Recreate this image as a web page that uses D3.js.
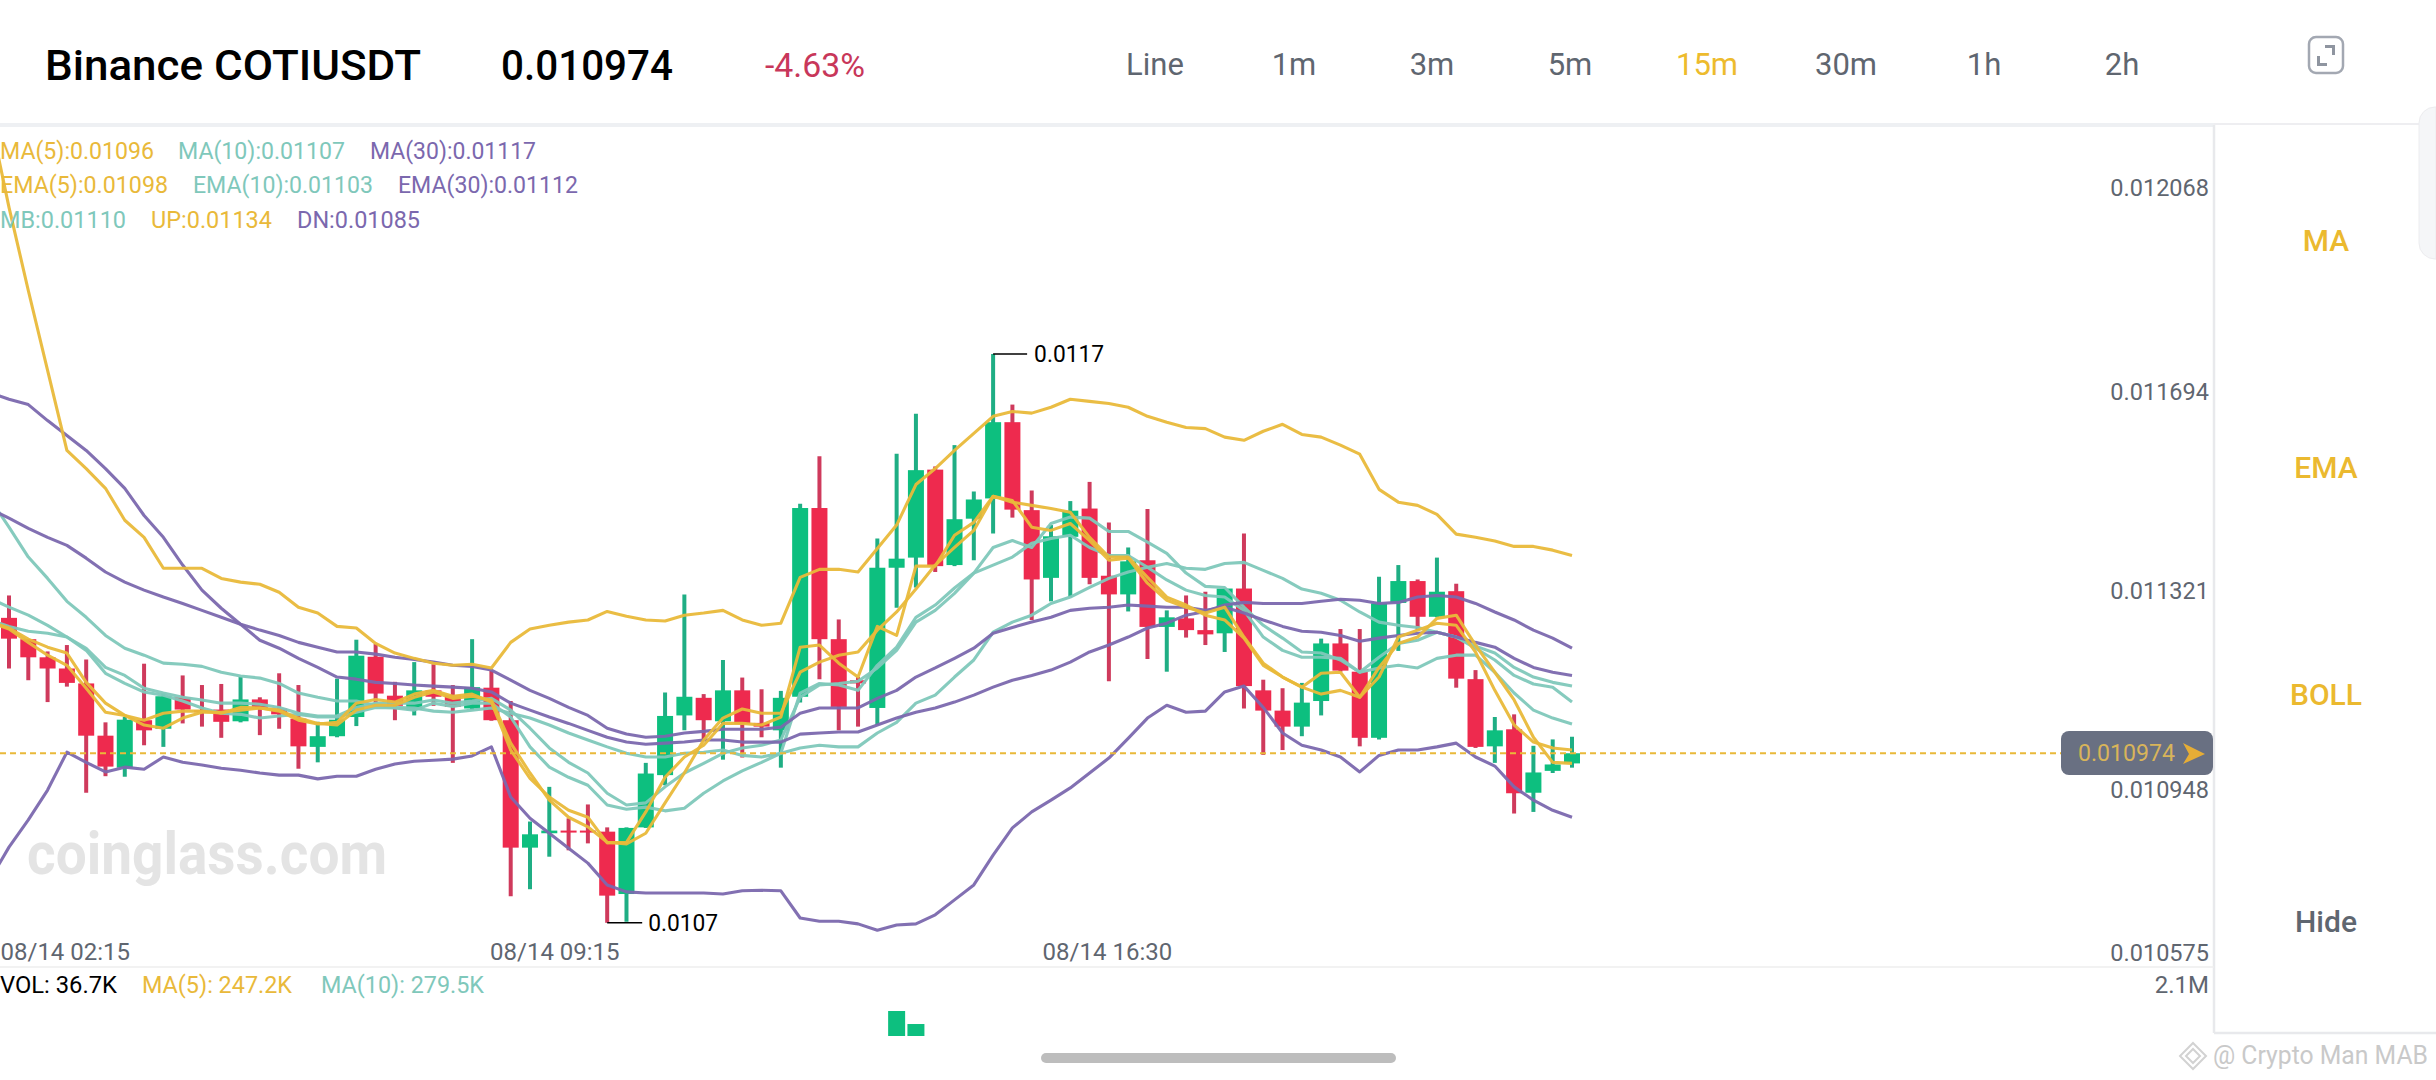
<!DOCTYPE html>
<html><head><meta charset="utf-8">
<script src="https://cdn.jsdelivr.net/npm/d3@7/dist/d3.min.js"></script>
<style>html,body{margin:0;background:#fff;overflow:hidden}svg{display:block}text{font-family:Roboto,sans-serif}</style>
</head><body>
<script>
// prices are in millionths of USDT
const opens=[11228,11188,11154,11133,11105,11007,10947,11036,11020,11079,11055,11056,11034,11075,11058,11039,10986,11006,11042,11155,11082,11055,11092,11083,11058,11097,11036,10797,10824,10829,10829,10827,10710,10835,10933,11045,11078,11034,11092,11031,11017,11080,11434,11188,11111,11059,11322,11341,11506,11327,11414,11452,11595,11430,11303,11380,11433,11307,11272,11336,11211,11227,11205,11199,11283,11092,11054,11024,11072,11180,11127,11003,11256,11297,11230,11278,11113,10987,11019,10900,10941,10955];
const closes=[11189,11154,11133,11106,11007,10949,11037,11017,11081,11056,11051,11033,11075,11059,11047,10987,11006,11037,11157,11086,11063,11092,11080,11061,11098,11036,10797,10822,10829,10826,10826,10707,10834,10936,11044,11080,11036,11092,11029,11024,11078,11434,11188,11061,11105,11322,11339,11505,11325,11413,11450,11595,11431,11300,11381,11429,11303,11272,11334,11211,11229,11205,11197,11283,11100,11054,11024,11069,11180,11129,11003,11255,11297,11230,11277,11114,10986,11017,10899,10938,10953,10974];
const highs=[11270,11188,11165,11177,11150,11032,11042,11142,11086,11120,11102,11104,11117,11079,11124,11102,11033,11114,11187,11179,11108,11145,11141,11102,11188,11129,11072,10846,10911,10852,10878,10835,10835,10956,11088,11272,11085,11149,11116,11094,11091,11442,11531,11225,11117,11377,11536,11611,11512,11552,11465,11723,11628,11467,11402,11447,11483,11407,11360,11432,11242,11270,11277,11283,11386,11112,11096,11106,11189,11207,11207,11305,11327,11300,11341,11292,11130,11042,11047,10988,11000,11005];
const lows=[11133,11111,11070,11099,10900,10931,10930,10989,10986,11030,11024,11003,11032,11008,11020,10945,10957,11004,11025,11069,11036,11045,11063,10956,11055,11035,10706,10719,10780,10792,10805,10656,10658,10834,10914,11017,10999,10962,10966,11004,10947,11069,11113,11017,11024,11027,11247,11285,11314,11325,11336,11386,11416,11224,11259,11267,11291,11109,11240,11151,11127,11191,11177,11164,11058,10971,10980,11006,11045,11127,10987,11000,11166,11205,11229,11097,10984,10956,10861,10864,10937,10947];

// indicator series: first value belongs to the candle just left of the frame
const up=[12170,11998,11842,11692,11542,11508,11471,11411,11379,11321,11321,11321,11302,11295,11291,11276,11248,11237,11212,11209,11180,11162,11152,11143,11139,11141,11134,11182,11207,11214,11220,11224,11240,11231,11224,11222,11233,11237,11242,11224,11214,11218,11304,11319,11319,11314,11358,11402,11478,11508,11542,11574,11606,11615,11612,11623,11638,11634,11630,11623,11606,11595,11585,11583,11567,11561,11578,11591,11572,11567,11552,11535,11469,11445,11439,11422,11385,11379,11372,11362,11362,11355,11345];
const dn=[10736,10798,10849,10905,10976,10957,10939,10948,10944,10967,10957,10952,10946,10942,10937,10933,10933,10926,10931,10931,10944,10954,10959,10961,10963,10969,10986,10892,10852,10824,10796,10768,10727,10714,10712,10712,10712,10712,10710,10716,10717,10716,10665,10659,10659,10654,10642,10652,10654,10671,10699,10727,10783,10834,10864,10886,10909,10937,10965,11002,11040,11064,11051,11053,11089,11100,11060,11012,10989,10980,10967,10939,10970,10980,10980,10986,10993,10967,10950,10911,10886,10867,10854];
const mb=[11452,11398,11342,11302,11259,11229,11195,11171,11158,11143,11141,11137,11126,11119,11115,11105,11087,11079,11072,11072,11064,11060,11059,11053,11051,11055,11059,11049,11040,11027,11012,10999,10986,10974,10967,10967,10974,10976,10980,10970,10967,10974,10984,10989,10986,10986,11012,11032,11068,11083,11117,11149,11201,11220,11233,11255,11267,11285,11302,11314,11323,11330,11321,11319,11330,11332,11317,11302,11282,11274,11261,11239,11220,11214,11210,11201,11192,11175,11162,11135,11117,11107,11100];
const ma30=[11651,11638,11628,11598,11570,11542,11508,11471,11420,11379,11327,11280,11246,11216,11186,11171,11152,11135,11117,11113,11107,11105,11102,11100,11098,11096,11089,11068,11055,11042,11030,11017,11004,10995,10991,10993,10995,10999,10999,10995,10995,10995,11010,11012,11014,11014,11027,11040,11051,11059,11070,11083,11098,11111,11120,11130,11145,11164,11177,11192,11209,11218,11233,11240,11252,11257,11255,11255,11255,11259,11263,11261,11255,11257,11267,11270,11267,11255,11239,11224,11205,11190,11171];
const ema30=[11433,11415,11396,11379,11364,11340,11314,11295,11280,11267,11255,11242,11229,11216,11205,11195,11182,11173,11164,11164,11160,11154,11150,11145,11139,11137,11130,11111,11092,11077,11060,11045,11021,11010,11004,11006,11012,11015,11019,11019,11019,11023,11049,11059,11059,11059,11077,11092,11117,11134,11152,11171,11199,11210,11220,11229,11242,11246,11248,11252,11250,11248,11248,11242,11248,11237,11224,11212,11203,11201,11195,11184,11190,11195,11199,11201,11192,11182,11173,11152,11135,11126,11120];
const ma10=[11224,11212,11203,11199,11192,11167,11124,11105,11089,11083,11072,11059,11049,11047,11040,11044,11047,11042,11042,11051,11060,11059,11055,11068,11062,11068,11068,11042,10986,10948,10929,10914,10877,10869,10873,10866,10871,10899,10922,10941,10957,10974,11087,11105,11102,11092,11139,11173,11229,11252,11284,11312,11360,11373,11360,11405,11417,11415,11390,11390,11370,11349,11312,11287,11285,11248,11214,11190,11164,11162,11149,11126,11154,11180,11186,11201,11192,11171,11149,11120,11104,11098,11070];
const ema10=[11265,11248,11233,11214,11192,11171,11135,11120,11096,11087,11079,11074,11068,11068,11066,11060,11049,11044,11044,11060,11068,11068,11068,11074,11068,11072,11077,11055,11021,10984,10957,10937,10899,10877,10881,10911,10937,10955,10974,10984,10989,10999,11079,11102,11105,11109,11134,11167,11220,11242,11274,11312,11327,11342,11368,11377,11383,11360,11345,11345,11323,11299,11280,11270,11267,11242,11192,11167,11154,11154,11152,11126,11134,11139,11134,11152,11158,11158,11126,11087,11055,11040,11029];
const ma5=[11220,11207,11182,11158,11139,11096,11051,11045,11036,11049,11053,11053,11049,11060,11059,11053,11036,11029,11032,11068,11075,11070,11085,11092,11081,11085,11070,10980,10927,10892,10867,10854,10806,10807,10864,10929,10967,10989,11030,11030,11027,11042,11173,11177,11143,11117,11212,11195,11325,11325,11383,11407,11456,11448,11398,11392,11405,11373,11336,11340,11293,11261,11248,11237,11248,11192,11143,11117,11098,11124,11126,11079,11135,11180,11192,11227,11233,11177,11126,11074,11004,10957,10955];
const ema5=[11220,11209,11188,11173,11162,11107,11068,11045,11027,11021,11040,11051,11051,11055,11059,11055,11040,11030,11027,11055,11064,11064,11079,11089,11077,11081,11074,10993,10937,10886,10854,10836,10807,10804,10824,10881,10937,10999,11040,11057,11049,11049,11126,11145,11158,11164,11205,11239,11282,11327,11360,11392,11456,11445,11439,11433,11426,11379,11342,11342,11304,11267,11252,11233,11224,11190,11139,11117,11098,11085,11092,11079,11117,11192,11205,11218,11214,11164,11092,11027,10995,10984,10980];

const priceTicks=[12068,11694,11321,10948,10575];
const timeIndex=[0,28,57];
const timeLabels=["08/14 02:15","08/14 09:15","08/14 16:30"];
const volIndex=[46,47];
const volValues=[772000,370000];
const volMax=2100000;
const lastPrice=10974;
const tabs=["Line","1m","3m","5m","15m","30m","1h","2h"];
const sideMenu=["MA","EMA","BOLL","Hide"];

const GREEN="#0dbf7f",RED="#ee2a4e",REDW="#cf3a5c",GREENW="#1fae84",YEL="#e9b93a",TEAL="#7fc8bb",PUR="#7b68ae",GREY="#5f6670";
const svg=d3.select("body").append("svg").attr("width",2436).attr("height",1080);
const x=d3.scaleLinear().domain([0,81]).range([9,1572]);
const y=d3.scaleLinear().domain([10575,12068]).range([966,170]);
const v=d3.scaleLinear().domain([0,volMax]).range([1036,968]);

function txt(t,px,py,size,fill,o={}){const n=svg.append("text").attr("x",px).attr("y",py).attr("font-size",size).attr("fill",fill)
 .attr("text-anchor",o.a||"start").attr("dominant-baseline","central").attr("font-weight",o.w||400).text(t);
 if(o.len)n.attr("textLength",o.len).attr("lengthAdjust","spacingAndGlyphs");return n;}

// header
svg.append("rect").attr("x",0).attr("y",123).attr("width",2214).attr("height",4).attr("fill","#eef0f3");
svg.append("line").attr("x1",2214).attr("x2",2436).attr("y1",124).attr("y2",124).attr("stroke","#e8e9ec").attr("stroke-width",1.5);
txt("Binance COTIUSDT",45,65,43,"#000",{w:500,len:376});
txt("0.010974",501,65,43,"#000",{w:500,len:172});
txt("-4.63%",765,65,33,"#c8375a",{len:100});
const tabX=[1155,1294,1432,1570,1707,1846,1984,2122];
tabs.forEach((t,i)=>txt(t,tabX[i],64,31,t==="15m"?"#edbb2d":GREY,{a:"middle"}));
// expand icon
svg.append("rect").attr("x",2309).attr("y",37).attr("width",34).attr("height",36).attr("rx",7).attr("fill","none").attr("stroke","#a3a8b2").attr("stroke-width",2.5);
svg.append("path").attr("d","M2325 45h10v10h-3v-7h-7zM2317 56h3v7h7v3h-10z").attr("fill","#8f95a0");
// side panel
svg.append("line").attr("x1",2214).attr("x2",2214).attr("y1",125).attr("y2",1033).attr("stroke","#e8e9ec").attr("stroke-width",2.5);
svg.append("line").attr("x1",2214).attr("x2",2436).attr("y1",1033).attr("y2",1033).attr("stroke","#e8e9ec").attr("stroke-width",2.5);
svg.append("path").attr("d","M2436 107h-1a16 16 0 0 0-16 16v120a16 16 0 0 0 16 16h1z").attr("fill","#f5f6f8").attr("stroke","#ececef");
const sideY=[240,467,694,921];
sideMenu.forEach((t,i)=>txt(t,2326,sideY[i],30,t==="Hide"?GREY:"#ebb92f",{a:"middle",w:500}));

// grid lines
svg.append("line").attr("x1",0).attr("x2",2214).attr("y1",y(10575)+1).attr("y2",y(10575)+1).attr("stroke","#eeeeee").attr("stroke-width",1.5);

// watermark
txt("coinglass.com",27,853,60,"#e4e4e4",{w:700,len:360});

// candles
const idx=d3.range(opens.length);
const gC=svg.append("g");
gC.selectAll("line").data(idx).join("line")
 .attr("x1",i=>x(i)).attr("x2",i=>x(i)).attr("y1",i=>y(highs[i])).attr("y2",i=>y(lows[i]))
 .attr("stroke",i=>closes[i]>=opens[i]?GREENW:REDW).attr("stroke-width",4);
gC.selectAll("rect").data(idx).join("rect")
 .attr("x",i=>x(i)-8).attr("width",16)
 .attr("y",i=>y(Math.max(opens[i],closes[i])))
 .attr("height",i=>Math.max(2,y(Math.min(opens[i],closes[i]))-y(Math.max(opens[i],closes[i]))))
 .attr("fill",i=>closes[i]>=opens[i]?GREEN:RED);

// indicator lines
const lineGen=d3.line().x((d,k)=>x(k-1)).y(d=>y(d));
[[mb,TEAL],[ma10,TEAL],[ema10,TEAL],[ma30,PUR],[ema30,PUR],[dn,PUR],[up,YEL],[ema5,YEL],[ma5,YEL]].forEach(([s,c])=>{
 svg.append("path").datum(s).attr("d",lineGen).attr("fill","none").attr("stroke",c).attr("stroke-width",3.1).attr("stroke-linejoin","round").attr("stroke-opacity",.95);
});

// high / low markers
const hiI=highs.indexOf(d3.max(highs)),loI=lows.indexOf(d3.min(lows));
svg.append("line").attr("x1",x(hiI)).attr("x2",x(hiI)+34).attr("y1",y(highs[hiI])).attr("y2",y(highs[hiI])).attr("stroke","#000").attr("stroke-width",1.6);
txt("0.0117",x(hiI)+41,y(highs[hiI]),24,"#000",{len:70});
svg.append("line").attr("x1",x(loI)).attr("x2",x(loI)+35).attr("y1",y(lows[loI])).attr("y2",y(lows[loI])).attr("stroke","#000").attr("stroke-width",1.6);
txt("0.0107",x(loI)+41,y(lows[loI]),24,"#000",{len:70});

// current price
svg.append("line").attr("x1",0).attr("x2",2061).attr("y1",y(lastPrice)).attr("y2",y(lastPrice)).attr("stroke",YEL).attr("stroke-width",2).attr("stroke-dasharray","6 4");
svg.append("rect").attr("x",2061).attr("y",731).attr("width",152).attr("height",44).attr("rx",8).attr("fill","#697082");
txt((lastPrice/1e6).toFixed(6),2078,753,24,"#d8b45a",{len:97});
svg.append("path").attr("d","M2183 743L2205 754L2183 764L2189 754Z").attr("fill","#e6ad36");

// axes
const yAxis=d3.axisRight(y).tickValues(priceTicks).tickSize(0).tickFormat(d=>(d/1e6).toFixed(6));
const gy=svg.append("g").attr("transform","translate(2209,0)").call(yAxis);
gy.select(".domain").remove();
const labelDy=[17,22,22,22,-14];
gy.selectAll("text").attr("x",0).attr("text-anchor","end").attr("dy",0).attr("dominant-baseline","central")
 .attr("font-size",23.5).attr("font-family","Roboto").attr("fill",GREY)
 .attr("transform",(d,i)=>`translate(0,${labelDy[priceTicks.indexOf(d)]})`);
const xAxis=d3.axisBottom(x).tickValues(timeIndex).tickSize(0).tickFormat((d,i)=>timeLabels[i]);
const gx=svg.append("g").attr("transform","translate(0,952)").call(xAxis);
gx.select(".domain").remove();
gx.selectAll("text").attr("y",0).attr("dy",0).attr("dominant-baseline","central").attr("font-size",24).attr("font-family","Roboto").attr("fill",GREY)
 .attr("text-anchor",(d,i)=>i===0?"start":"middle").attr("transform",(d,i)=>i===0?"translate(-9,0)":i===1?"translate(5,0)":"translate(-2,0)");

// legends
[["MA(5):0.01096",0,151,YEL,154],["MA(10):0.01107",178,151,TEAL,167],["MA(30):0.01117",370,151,PUR,166],
 ["EMA(5):0.01098",0,185,YEL,168],["EMA(10):0.01103",193,185,TEAL,180],["EMA(30):0.01112",398,185,PUR,180],
 ["MB:0.01110",0,220,TEAL,126],["UP:0.01134",151,220,YEL,121],["DN:0.01085",297,220,PUR,123],
 ["VOL: 36.7K",0,985,"#000",117],["MA(5): 247.2K",142,985,YEL,150],["MA(10): 279.5K",321,985,TEAL,163]
].forEach(([t,a,b,c,l])=>txt(t,a,b,23.5,c,{len:l}));
txt("2.1M",2209,985,24,GREY,{a:"end"});

// volume
svg.append("g").selectAll("rect").data(volIndex).join("rect")
 .attr("x",(d)=>x(d)-8.5).attr("width",17).attr("y",(d,i)=>v(volValues[i])).attr("height",(d,i)=>v(0)-v(volValues[i])).attr("fill",GREEN);

// scrollbar + credit
svg.append("rect").attr("x",1041).attr("y",1053).attr("width",355).attr("height",10).attr("rx",5).attr("fill","#bdbdbd");
svg.append("path").attr("d","M2193 1043L2206 1056L2193 1069L2180 1056Z M2193 1049L2200 1056L2193 1063L2186 1056Z").attr("fill","none").attr("stroke","#d2d2d2").attr("stroke-width",2);
txt("@ Crypto Man MAB",2213,1055,25,"#c9c9c9",{len:215});
</script>
</body></html>
